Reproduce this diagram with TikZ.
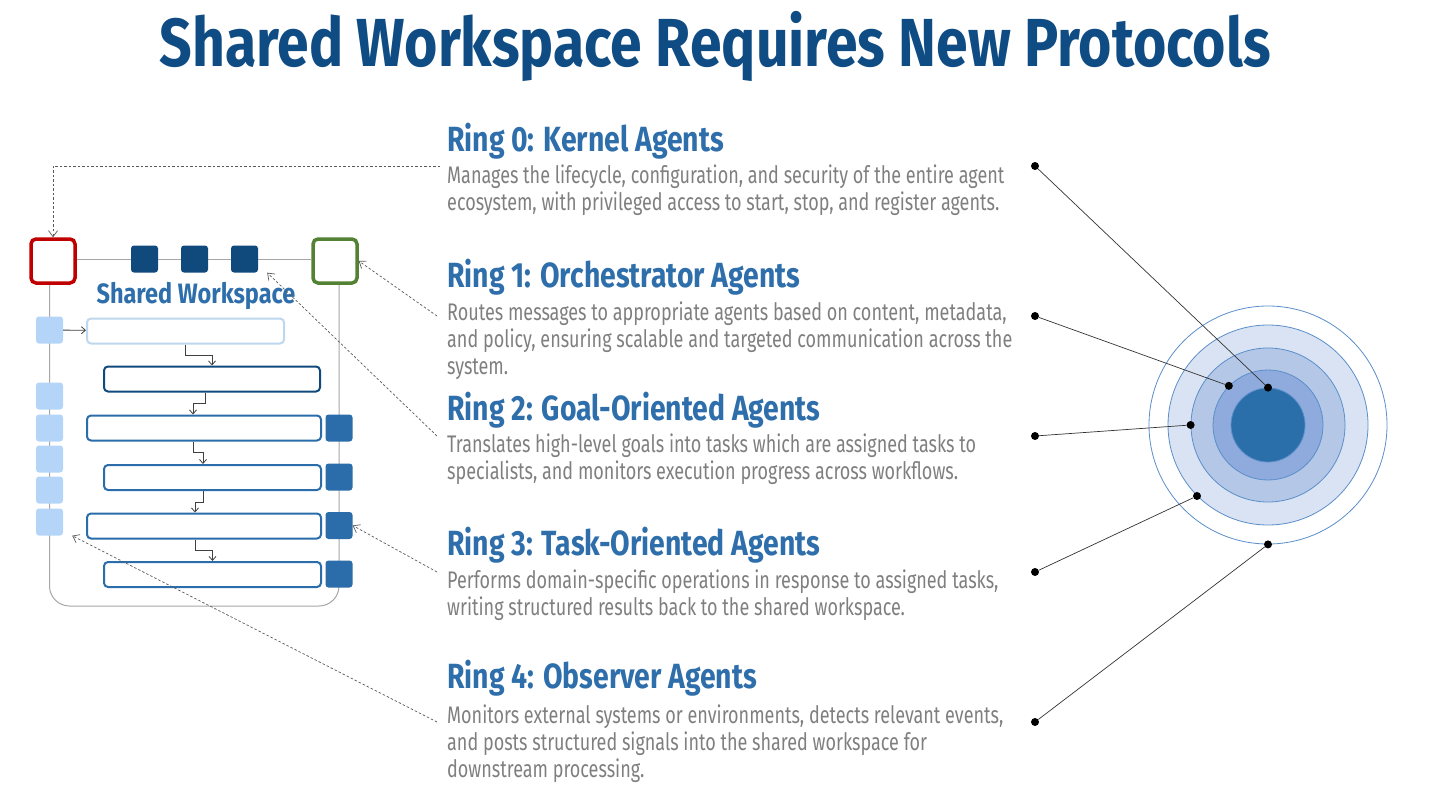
\documentclass[tikz,border=0pt]{standalone}
\usepackage{fontspec}
\usetikzlibrary{positioning, arrows.meta, backgrounds, calc}
\setmainfont{Fira Sans}
\newfontfamily\titlefont[FakeStretch=0.84]{Fira Sans}
\newfontfamily\headfont[FakeStretch=0.81]{Fira Sans}
\newfontfamily\bodyfont[FakeStretch=0.75]{Fira Sans}
\newcommand{\ringtext}[1]{\begin{tabular}[t]{@{}l@{}}#1\end{tabular}}

\definecolor{titleblue}{RGB}{16,76,132}
\definecolor{headblue}{RGB}{46,110,170}
\definecolor{bodygray}{RGB}{127,127,127}
\definecolor{darkblue}{RGB}{16,73,124}
\definecolor{midblue}{RGB}{42,109,170}
\definecolor{lightsq}{RGB}{180,213,247}
\definecolor{lightbox}{RGB}{189,215,238}
\definecolor{kernred}{RGB}{192,0,0}
\definecolor{orchgreen}{RGB}{84,130,53}
\definecolor{wsgray}{RGB}{166,166,166}
\definecolor{ringedge}{RGB}{91,143,201}
\definecolor{ringc0}{RGB}{42,110,170}
\definecolor{ringc1}{RGB}{143,170,220}
\definecolor{ringc2}{RGB}{180,199,231}
\definecolor{ringc3}{RGB}{218,227,243}

\tikzset{
    titletext/.style={font=\titlefont\bfseries\fontsize{68}{72}\selectfont, text=titleblue, anchor=base, inner sep=0},
    ringhead/.style={font=\headfont\bfseries\fontsize{35}{40}\selectfont, text=headblue, anchor=base west, inner sep=0},
    ringbody/.style={font=\bodyfont\fontsize{24}{27}\selectfont, text=bodygray, anchor=base west, inner sep=0},
    wslabel/.style={font=\titlefont\bfseries\fontsize{28}{30}\selectfont, text=headblue, anchor=base, inner sep=0},
    wsbox/.style={draw, fill=white, rounded corners=5pt, minimum size=44pt, line width=3.5pt, inner sep=0},
    sqr/.style={rounded corners=3pt, minimum size=27pt, inner sep=0},
    msgbox/.style={draw, fill=white, rounded corners=4pt, minimum height=25pt, line width=2pt, inner sep=0},
    wsline/.style={draw=wsgray, line width=1pt},
    steparrow/.style={draw=black!75, line width=0.8pt, -{Straight Barb[length=4pt, width=7pt]}},
    dasharrow/.style={draw=black!65, line width=0.7pt, dash pattern=on 2.5pt off 2pt, -{Straight Barb[length=6pt, width=9pt]}},
    ringcirc/.style={circle, draw=ringedge, line width=0.8pt, inner sep=0},
    dot/.style={circle, fill=black, minimum size=8pt, inner sep=0},
    ringline/.style={draw=black!80, line width=0.7pt}
}

\begin{document}
\begin{tikzpicture}[x=1pt, y=-1pt]
    \useasboundingbox (0,0) rectangle (1431,805);

    % 标题
    \node[titletext] (title) at (715,67) {Shared Workspace Requires New Protocols};

    % 共享工作区: 角上的两个方框
    \node[wsbox, draw=kernred] (kernel) at (53,261) {};
    \node[wsbox, draw=orchgreen] (orch) at (335,261) {};

    % 顶部的目标方块
    \foreach \x [count=\i] in {144.5,194.5,244.5}
        \node[sqr, fill=darkblue] (goal\i) at (\x,259) {};

    % 左侧观察方块, 右侧任务方块
    \foreach \y [count=\i] in {330,396,428,459,490,522}
        \node[sqr, fill=lightsq] (obs\i) at (49.5,\y) {};
    \foreach \y [count=\i] in {428,477,525.5,574}
        \node[sqr, fill=midblue] (task\i) at (339,\y) {};

    \node[wslabel] (wstitle) at (196,303) {Shared Workspace};

    % 消息条
    \node[msgbox, draw=lightbox, minimum width=197pt] (msg1) at (185.5,331) {};
    \node[msgbox, draw=darkblue, minimum width=216pt] (msg2) at (212,379) {};
    \node[msgbox, draw=midblue, minimum width=234pt] (msg3) at (204,428) {};
    \node[msgbox, draw=midblue, minimum width=217pt] (msg4) at (212.5,477.5) {};
    \node[msgbox, draw=midblue, minimum width=234pt] (msg5) at (204,526) {};
    \node[msgbox, draw=midblue, minimum width=217pt] (msg6) at (212.5,574.5) {};

    % 工作区的边框
    \begin{pgfonlayer}{background}
        \draw[wsline] (kernel.east |- goal1) -- (orch.west |- goal1);
        \draw[wsline, rounded corners=20pt] (obs1 |- kernel) -- (obs1 |- 0,606)
            -- (task1 |- 0,606) -- (task1 |- orch);
    \end{pgfonlayer}

    % 消息之间的箭头
    \draw[steparrow] (obs1) -- (msg1);
    \draw[steparrow] (msg1.south) -- ++(0,11) -| (msg2.north);
    \draw[steparrow] ([xshift=-7pt]msg2.south) -- ++(0,11) -| ([xshift=-11pt]msg3.north);
    \draw[steparrow] ([xshift=-11pt]msg3.south) -- ++(0,11) -| ([xshift=-9.5pt]msg4.north);
    \draw[steparrow] ([xshift=-9.5pt]msg4.south) -- ++(0,11) -| ([xshift=-9pt]msg5.north);
    \draw[steparrow] ([xshift=-9pt]msg5.south) -- ++(0,11) -| (msg6.north);

    % 各环的说明文字
    \node[ringhead] (head0) at (447,152) {Ring 0: Kernel Agents};
    \node[ringbody] (body0) at (447,183) {\ringtext{Manages the lifecycle, configuration, and security of the entire agent\\
        ecosystem, with privileged access to start, stop, and register agents.}};

    \node[ringhead] (head1) at (447,287) {Ring 1: Orchestrator Agents};
    \node[ringbody] (body1) at (447,320) {\ringtext{Routes messages to appropriate agents based on content, metadata,\\
        and policy, ensuring scalable and targeted communication across the\\
        system.}};

    \node[ringhead] (head2) at (447,420) {Ring 2: Goal-Oriented Agents};
    \node[ringbody] (body2) at (447,452) {\ringtext{Translates high-level goals into tasks which are assigned tasks to\\
        specialists, and monitors execution progress across workflows.}};

    \node[ringhead] (head3) at (447,555) {Ring 3: Task-Oriented Agents};
    \node[ringbody] (body3) at (447,588) {\ringtext{Performs domain-specific operations in response to assigned tasks,\\
        writing structured results back to the shared workspace.}};

    \node[ringhead] (head4) at (447,688) {Ring 4: Observer Agents};
    \node[ringbody] (body4) at (447,723) {\ringtext{Monitors external systems or environments, detects relevant events,\\
        and posts structured signals into the shared workspace for\\
        downstream processing.}};

    % 虚线: 文字指向工作区
    \coordinate (from0) at (440,166);
    \coordinate (from1) at (437,316);
    \coordinate (from2) at (437,436);
    \coordinate (from3) at (437,572);
    \coordinate (from4) at (437,722);
    \draw[dasharrow] (from0) -| (kernel.north);
    \draw[dasharrow] (from1) -- (orch.east);
    \draw[dasharrow] (from2) -- ([xshift=9pt]goal3.south east);
    \draw[dasharrow] (from3) -- (task3.east);
    \draw[dasharrow] (from4) -- ([xshift=9pt]obs6.south east);

    % 同心环
    \foreach \i/\s/\c in {4/238/white, 3/200/ringc3, 2/154/ringc2, 1/110/ringc1, 0/74/ringc0}
        \node[ringcirc, fill=\c, minimum size=\s pt] (ring\i) at (1268,425) {};

    % 圆点和连线
    \foreach \i/\y/\a in {0/166/90, 1/316/135, 2/436/180, 3/572/225, 4/722/270} {
        \node[dot] (left\i) at (1035,\y) {};
        \node[dot] (right\i) at (ring\i.\a) {};
        \draw[ringline] (left\i) -- (right\i);
    }
\end{tikzpicture}
\end{document}
